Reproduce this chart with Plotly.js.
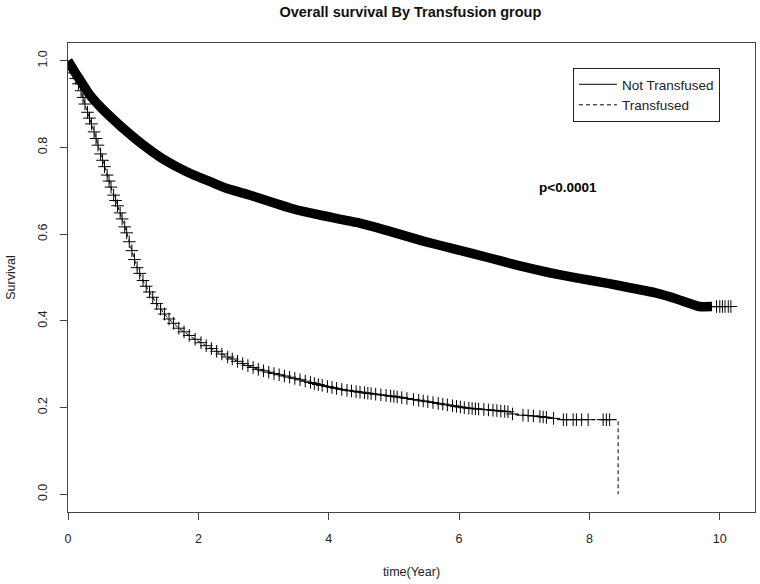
<!DOCTYPE html>
<html>
<head>
<meta charset="utf-8">
<script src="https://cdn.plot.ly/plotly-3.0.1.min.js"></script>
<style>html,body{margin:0;padding:0;background:#fff;}#chart{width:760px;height:584px;}</style>
</head>
<body>
<div id="chart"></div>
<script>
// ---- Data ----
const groupNames = ["Not Transfused", "Transfused"];

// Kaplan-Meier estimate, Not Transfused group (time in years, survival)
const notTransTime = [0, 0.1, 0.2, 0.34, 0.5, 0.7, 0.9, 1.15, 1.41, 1.65, 1.92, 2.2, 2.43, 2.7, 2.94, 3.2, 3.46, 3.9, 4.43, 4.9, 5.45, 5.95, 6.47, 6.9, 7.39, 7.8, 8.26, 8.6, 9.03, 9.35, 9.69, 10.19];
const notTransSurv = [1.0, 0.975, 0.952, 0.92, 0.893, 0.864, 0.837, 0.806, 0.778, 0.757, 0.737, 0.72, 0.706, 0.694, 0.683, 0.67, 0.658, 0.643, 0.627, 0.608, 0.584, 0.565, 0.545, 0.528, 0.511, 0.499, 0.487, 0.477, 0.464, 0.45, 0.433, 0.433];
// censoring is so dense up to this time that the marks merge into a solid band
const notTransDenseCensorEnd = 9.88;
// sparse censor marks after the dense band
const notTransCensorTime = [9.95, 10.0, 10.04, 10.08, 10.13, 10.17];

// Kaplan-Meier estimate, Transfused group
const transTime = [0, 0.1, 0.18, 0.28, 0.39, 0.49, 0.59, 0.7, 0.8, 0.9, 1.05, 1.15, 1.26, 1.38, 1.51, 1.7, 1.92, 2.15, 2.43, 2.7, 2.94, 3.2, 3.46, 3.84, 4.22, 4.6, 4.99, 5.5, 6.11, 6.5, 6.78, 6.83, 7.2, 7.6, 8.44, 8.44];
const transSurv = [1.0, 0.965, 0.941, 0.89, 0.841, 0.79, 0.741, 0.69, 0.649, 0.603, 0.526, 0.493, 0.464, 0.435, 0.41, 0.383, 0.36, 0.34, 0.318, 0.3, 0.287, 0.277, 0.268, 0.253, 0.241, 0.233, 0.226, 0.214, 0.199, 0.194, 0.19, 0.184, 0.18, 0.172, 0.172, 0.0];
// censoring times, Transfused group
const transCensorTime = [0.08, 0.12, 0.16, 0.2, 0.23, 0.26, 0.3, 0.33, 0.36, 0.4, 0.43, 0.46, 0.5, 0.53, 0.56, 0.6, 0.63, 0.66, 0.7, 0.73, 0.76, 0.8, 0.83, 0.87, 0.9, 0.94, 0.98, 1.02, 1.06, 1.1, 1.15, 1.2, 1.25, 1.3, 1.36, 1.42, 1.48, 1.55, 1.62, 1.7, 1.78, 1.86, 1.95, 2.04, 2.12, 2.2, 2.28, 2.36, 2.45, 2.52, 2.6, 2.68, 2.76, 2.84, 2.92, 3.0, 3.08, 3.16, 3.24, 3.32, 3.4, 3.48, 3.56, 3.64, 3.72, 3.78, 3.84, 3.9, 3.98, 4.05, 4.12, 4.2, 4.28, 4.35, 4.42, 4.48, 4.55, 4.6, 4.65, 4.72, 4.8, 4.88, 4.95, 5.0, 5.05, 5.12, 5.2, 5.3, 5.38, 5.45, 5.52, 5.6, 5.68, 5.75, 5.82, 5.9, 5.96, 6.02, 6.08, 6.15, 6.2, 6.25, 6.3, 6.38, 6.45, 6.52, 6.58, 6.64, 6.7, 6.75, 6.82, 6.98, 7.06, 7.14, 7.24, 7.29, 7.34, 7.45, 7.6, 7.65, 7.75, 7.8, 7.88, 7.98, 8.21, 8.26, 8.31];

const xTickVals = [0, 2, 4, 6, 8, 10];
const yTickVals = [0, 0.2, 0.4, 0.6, 0.8, 1.0];
const pValueText = "p<0.0001";
const pValuePos = [7.67, 0.707];

// ---- helpers ----
function survAt(times, surv, t) {
  for (let i = 1; i < times.length; i++) {
    if (t <= times[i]) {
      const t0 = times[i - 1], t1 = times[i];
      if (t1 === t0) return surv[i - 1];
      return surv[i - 1] + (surv[i] - surv[i - 1]) * (t - t0) / (t1 - t0);
    }
  }
  return surv[surv.length - 1];
}

const bandT = [], bandS = [];
notTransTime.forEach((t, i) => { if (t <= notTransDenseCensorEnd) { bandT.push(t); bandS.push(notTransSurv[i]); } });
bandT.push(notTransDenseCensorEnd);
bandS.push(survAt(notTransTime, notTransSurv, notTransDenseCensorEnd));

const FONT = "Liberation Sans, Arial, Helvetica, sans-serif";
const markerStyle = { symbol: "cross-thin-open", size: 9, color: "#000", line: { color: "#000", width: 1 } };

const traces = [
  { x: bandT, y: bandS, type: "scatter", mode: "lines", line: { color: "#000", width: 9.5, shape: "spline", smoothing: 0.35 }, showlegend: false, hoverinfo: "skip" },
  { x: notTransTime, y: notTransSurv, type: "scatter", mode: "lines", name: groupNames[0], line: { color: "#000", width: 1, shape: "spline", smoothing: 0.35 } },
  { x: notTransCensorTime, y: notTransCensorTime.map(t => survAt(notTransTime, notTransSurv, t)), type: "scatter", mode: "markers", marker: markerStyle, showlegend: false },
  { x: transTime, y: transSurv, type: "scatter", mode: "lines", name: groupNames[1], line: { color: "#000", width: 1, dash: "4px,3px" } },
  { x: transCensorTime, y: transCensorTime.map(t => survAt(transTime, transSurv, t)), type: "scatter", mode: "markers", marker: markerStyle, showlegend: false }
];

const axisCommon = {
  showgrid: false, zeroline: false, showline: true, mirror: true,
  linecolor: "#444", linewidth: 1, ticks: "outside", ticklen: 7, tickcolor: "#444", tickwidth: 1,
  tickfont: { family: FONT, size: 12.5, color: "#222" }
};

const layout = {
  width: 760, height: 584,
  margin: { l: 68, r: 5, t: 43, b: 72, pad: 0 },
  paper_bgcolor: "#fff", plot_bgcolor: "#fff",
  font: { family: FONT, color: "#222" },
  title: { text: "<b>Overall survival By Transfusion group</b>", font: { family: FONT, size: 14.5, color: "#111" }, x: 0.54, xanchor: "center", y: 0.979, yanchor: "middle" },
  xaxis: Object.assign({}, axisCommon, {
    range: [0, 10.54], tickvals: xTickVals, ticktext: xTickVals.map(String), ticklabelstandoff: 8,
    title: { text: "time(Year)", font: { family: FONT, size: 12.5, color: "#222" }, standoff: 22 }
  }),
  yaxis: Object.assign({}, axisCommon, {
    range: [-0.041, 1.041], tickvals: yTickVals, ticktext: yTickVals.map(v => v.toFixed(1)), tickangle: -90, ticklabelstandoff: 8,
    title: { text: "Survival", font: { family: FONT, size: 12.5, color: "#222" }, standoff: 17 }
  }),
  showlegend: true,
  legend: {
    x: 0.735, y: 0.9467, xanchor: "left", yanchor: "top",
    bordercolor: "#222", borderwidth: 1, bgcolor: "#fff",
    font: { family: FONT, size: 13.5, color: "#222" },
    tracegroupgap: 0, itemwidth: 38
  },
  annotations: [
    { x: pValuePos[0], y: pValuePos[1], xref: "x", yref: "y", text: "<b>" + pValueText + "</b>", showarrow: false, font: { family: FONT, size: 13.5, color: "#000" } }
  ]
};

Plotly.newPlot("chart", traces, layout, { displayModeBar: false, staticPlot: true });
</script>
</body>
</html>
